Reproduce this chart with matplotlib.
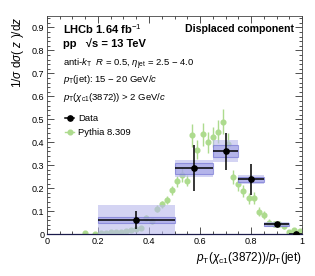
import numpy as np
import matplotlib
matplotlib.use("Agg")
import matplotlib.pyplot as plt
from matplotlib.patches import Rectangle
from matplotlib.lines import Line2D

plt.rcParams["font.family"] = ["Liberation Sans", "DejaVu Sans"]
plt.rcParams["mathtext.fontset"] = "custom"
plt.rcParams["mathtext.rm"] = "Liberation Sans"
plt.rcParams["mathtext.it"] = "Liberation Sans:italic"
plt.rcParams["mathtext.bf"] = "Liberation Sans:bold"

# Data (LHCb)
data_lo = [0.20, 0.50, 0.65, 0.75, 0.85, 0.95]
data_hi = [0.50, 0.65, 0.75, 0.85, 0.95, 1.00]
data_x = [0.35, 0.575, 0.70, 0.80, 0.90, 0.975]
data_y = [0.062, 0.286, 0.361, 0.238, 0.042, 0.0]
data_stat = [0.040, 0.100, 0.080, 0.067, 0.010, 0.005]
sys_total = [0.063, 0.036, 0.047, 0.020, 0.010, 0.004]
sys_inner = [0.012, 0.023, 0.025, 0.012, 0.006, 0.002]

# Pythia 8.309
py_x = [0.15, 0.19, 0.21, 0.23, 0.25, 0.27, 0.29, 0.31, 0.33, 0.35,
        0.37, 0.39, 0.41, 0.43, 0.45, 0.47, 0.49, 0.51, 0.53, 0.55,
        0.57, 0.59, 0.61, 0.63, 0.65, 0.67, 0.69, 0.71, 0.73, 0.75,
        0.77, 0.79, 0.81, 0.83, 0.85, 0.87, 0.89, 0.91, 0.93, 0.95,
        0.97, 0.99]
py_y = [0.003, 0.001, 0.003, 0.005, 0.007, 0.009, 0.011, 0.014, 0.017, 0.020,
        0.025, 0.072, 0.055, 0.110, 0.130, 0.148, 0.190, 0.230, 0.258, 0.233,
        0.430, 0.368, 0.435, 0.400, 0.423, 0.446, 0.490, 0.394, 0.250, 0.217,
        0.187, 0.156, 0.157, 0.098, 0.084, 0.050, 0.043, 0.043, 0.035, 0.010,
        0.017, 0.014]
py_err = [0.004, 0.002, 0.003, 0.003, 0.004, 0.004, 0.005, 0.005, 0.006, 0.007,
          0.008, 0.012, 0.010, 0.015, 0.015, 0.017, 0.020, 0.025, 0.030, 0.025,
          0.050, 0.040, 0.050, 0.045, 0.045, 0.050, 0.055, 0.045, 0.030, 0.030,
          0.025, 0.025, 0.025, 0.020, 0.018, 0.015, 0.013, 0.012, 0.012, 0.008,
          0.010, 0.008]

xticks = [0, 0.2, 0.4, 0.6, 0.8, 1.0]
xtick_labels = ["0", "0.2", "0.4", "0.6", "0.8", "1"]
yticks = [0, 0.1, 0.2, 0.3, 0.4, 0.5, 0.6, 0.7, 0.8, 0.9]
ytick_labels = ["0", "0.1", "0.2", "0.3", "0.4", "0.5", "0.6", "0.7", "0.8", "0.9"]

fig = plt.figure(figsize=(3.15, 2.76), dpi=100)
ax = fig.add_axes([0.149, 0.152, 0.81, 0.79])

green = "#addb8e"
ax.errorbar(py_x, py_y, yerr=py_err, fmt="o", color=green, ms=3.4,
            elinewidth=1.0, capsize=0, zorder=2)

for lo, hi, y, st, si in zip(data_lo, data_hi, data_y, sys_total, sys_inner):
    ax.add_patch(Rectangle((lo, y - st), hi - lo, 2 * st, facecolor="#b8b8ec",
                           edgecolor="none", alpha=0.6, zorder=3))
    ax.add_patch(Rectangle((lo, y - si), hi - lo, 2 * si, facecolor="#a0a0e4",
                           edgecolor="#6a6ad0", lw=0.8, alpha=0.6, zorder=3))

xerr = [np.array(data_x) - np.array(data_lo), np.array(data_hi) - np.array(data_x)]
ax.errorbar(data_x, data_y, xerr=xerr, yerr=data_stat, fmt="o", color="black",
            ms=3.8, elinewidth=1.1, capsize=0, zorder=4)

ax.set_xlim(0, 1)
ax.set_ylim(0, 0.95)
ax.set_xticks(xticks)
ax.set_xticklabels(xtick_labels)
ax.set_xticks(np.arange(0, 1.001, 0.05), minor=True)
ax.set_yticks(yticks)
ax.set_yticklabels(ytick_labels)
ax.set_yticks(np.arange(0, 0.951, 0.02), minor=True)
ax.tick_params(which="both", direction="in", top=True, right=True, labelsize=6.5,
               width=0.6, colors="#333333", labelcolor="black", pad=2)
ax.tick_params(which="major", length=5)
ax.tick_params(which="minor", length=2.5)
for s in ax.spines.values():
    s.set_linewidth(0.6)
    s.set_color("#444444")
ax.spines["bottom"].set_color("#1a1a4a")
ax.spines["bottom"].set_linewidth(0.9)

ax.set_xlabel(r"$p_{\mathrm{T}}(\chi_{\mathrm{c1}}(3872))/p_{\mathrm{T}}(\mathrm{jet})$",
              fontsize=8.5, loc="right", labelpad=3)
ax.set_ylabel(r"1/$\sigma$ d$\sigma$( $z$ )/d$z$", fontsize=8.5, loc="top", labelpad=4)

ax.text(0.063, 0.938, r"LHCb 1.64 fb$^{-1}$", transform=ax.transAxes,
        fontsize=8, fontweight="bold", va="center")
ax.text(0.063, 0.872, "pp   \u221As = 13 TeV", transform=ax.transAxes,
        fontsize=8, fontweight="bold", va="center")
ax.text(0.063, 0.78, r"anti-$k_{\mathrm{T}}$  $R$ = 0.5, $\eta_{\mathrm{jet}}$ = 2.5 $-$ 4.0",
        transform=ax.transAxes, fontsize=6.8, va="center")
ax.text(0.063, 0.71, r"$p_{\mathrm{T}}$(jet): 15 $-$ 20 GeV/$c$",
        transform=ax.transAxes, fontsize=6.8, va="center")
ax.text(0.063, 0.628, r"$p_{\mathrm{T}}$($\chi_{\mathrm{c1}}$(3872)) > 2 GeV/$c$",
        transform=ax.transAxes, fontsize=6.8, va="center")
ax.text(0.97, 0.94, "Displaced component", transform=ax.transAxes,
        fontsize=7.6, fontweight="bold", va="center", ha="right")

handles = [Line2D([], [], color="black", marker="o", ms=3.8, lw=1.1),
           Line2D([], [], color=green, marker="o", ms=3.4, lw=1.0)]
ax.legend(handles, ["Data", "Pythia 8.309"], loc="upper left",
          bbox_to_anchor=(0.045, 0.58), frameon=False, fontsize=6.8,
          handlelength=1.0, handletextpad=0.4, labelspacing=0.5, borderpad=0.2)

fig.savefig("out.png", dpi=100)
